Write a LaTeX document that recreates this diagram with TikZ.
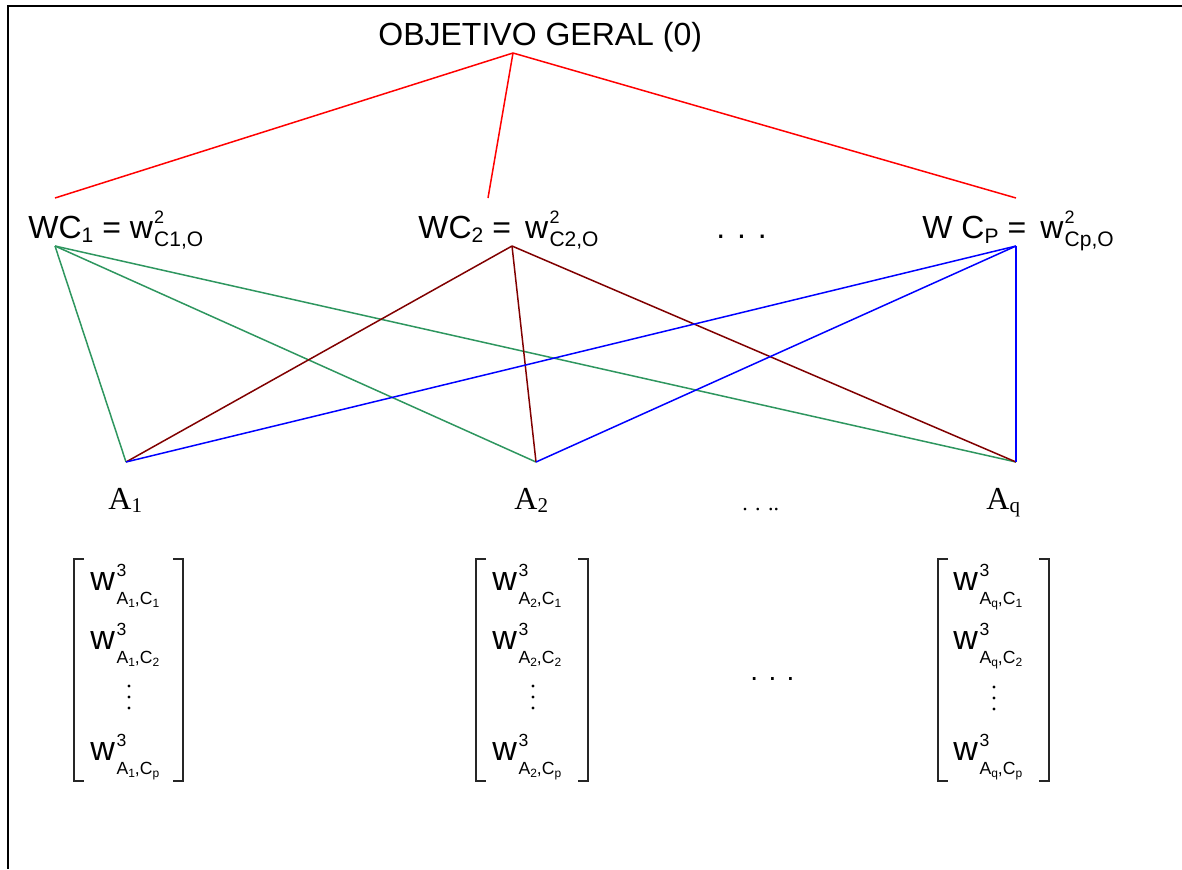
\documentclass[tikz,border=0pt]{standalone}
\usepackage{fontspec}
\setmainfont{Liberation Sans}
\newfontfamily\timesfont{Liberation Serif}
\usepackage{tikz}

\definecolor{linkred}{RGB}{255,0,0}
\definecolor{linkgreen}{RGB}{46,150,95}
\definecolor{linkbrown}{RGB}{128,0,0}
\definecolor{linkblue}{RGB}{0,0,255}

\newcommand{\wfs}{\fontsize{16}{19}\selectfont}
\newcommand{\supfs}{\fontsize{9}{11}\selectfont}
\newcommand{\subfs}{\fontsize{10.5}{12}\selectfont}
\newcommand{\mwfs}{\fontsize{17}{20}\selectfont}
\newcommand{\msubfs}{\fontsize{8.8}{10}\selectfont}
\newcommand{\mssubfs}{\fontsize{6}{7}\selectfont}
\newcommand{\wtop}[1]{w\kern0.6pt\rlap{\raisebox{7.5pt}{\supfs 2}}\raisebox{-4pt}{\subfs #1}}
\newcommand{\went}[2]{{\mwfs w}\kern0.8pt\rlap{\raisebox{6.8pt}{\msubfs 3}}\raisebox{-7.2pt}{\msubfs A\raisebox{-1.5pt}{\mssubfs #1},C\raisebox{-1.5pt}{\mssubfs #2}}}

\begin{document}
\begin{tikzpicture}[x=0.5pt, y=-0.5pt, every node/.style={inner sep=0pt, anchor=base west, font=\wfs}]
  \useasboundingbox (0,0) rectangle (1182,869);
  \draw[line width=1pt] (1182,6) -- (8,6) -- (8,869);
  \node (obj) at (378,45) {OBJETIVO GERAL (0)};
  \node (wc1) at (28,238) {WC\raisebox{-2pt}{\subfs 1} = \wtop{C1,O}};
  \node (wc2) at (418,238) {WC\raisebox{-2pt}{\subfs 2} = \,\wtop{C2,O}};
  \node (cdots) at (716,238) {. . .};
  \node (wcp) at (922,238) {W C\raisebox{-2.5pt}{\subfs P} = \,\wtop{Cp,O}};
  \coordinate (top) at (513,53);
  \coordinate (in1) at (55,198);
  \coordinate (in2) at (488,198);
  \coordinate (inp) at (1016,198);
  \coordinate (c1) at (55,246);
  \coordinate (c2) at (512,246);
  \coordinate (cp) at (1016,246);
  \coordinate (a1) at (126,462);
  \coordinate (a2) at (536,462);
  \coordinate (aq) at (1016,462);
  \draw[linkred, line width=0.75pt] (top) -- (in1);
  \draw[linkred, line width=0.75pt] (top) -- (in2);
  \draw[linkred, line width=0.75pt] (top) -- (inp);
  \draw[linkgreen, line width=0.75pt] (c1) -- (a1);
  \draw[linkgreen, line width=0.75pt] (c1) -- (a2);
  \draw[linkgreen, line width=0.75pt] (c1) -- (aq);
  \draw[linkbrown, line width=0.75pt] (c2) -- (a1);
  \draw[linkbrown, line width=0.75pt] (c2) -- (a2);
  \draw[linkbrown, line width=0.75pt] (c2) -- (aq);
  \draw[linkblue, line width=0.75pt] (cp) -- (a1);
  \draw[linkblue, line width=0.75pt] (cp) -- (a2);
  \draw[linkblue, line width=0.75pt] (cp) -- (aq);
  \node[font=\timesfont\wfs] (la1) at (108,509) {A\raisebox{-1.5pt}{\subfs 1}};
  \node[font=\timesfont\wfs] (la2) at (514,509) {A\raisebox{-1.5pt}{\subfs 2}};
  \node[font=\timesfont\fontsize{11}{13}\selectfont] (adots) at (742,510) {. . ..};
  \node[font=\timesfont\wfs] (laq) at (986,509) {A\raisebox{-1.5pt}{\subfs q}};
  \draw[black!85, line width=1pt] (84,559) -- (74,559) -- (74,781) -- (84,781);
  \draw[black!85, line width=1pt] (173,559) -- (183,559) -- (183,781) -- (173,781);
  \node (m11) at (90,590) {\went{1}{1}};
  \node (m12) at (90,649) {\went{1}{2}};
  \fill (129,686) circle[radius=0.8pt] (129,697) circle[radius=0.8pt] (129,708) circle[radius=0.8pt];
  \node (m1p) at (90,760) {\went{1}{p}};
  \draw[black!85, line width=1pt] (486,559) -- (476,559) -- (476,781) -- (486,781);
  \draw[black!85, line width=1pt] (578,559) -- (588,559) -- (588,781) -- (578,781);
  \node (m21) at (492,590) {\went{2}{1}};
  \node (m22) at (492,649) {\went{2}{2}};
  \fill (533,686) circle[radius=0.8pt] (533,697) circle[radius=0.8pt] (533,708) circle[radius=0.8pt];
  \node (m2p) at (492,760) {\went{2}{p}};
  \node[font=\fontsize{14}{16}\selectfont] (mdots) at (750,680) {. . .};
  \draw[black!85, line width=1pt] (948,559) -- (938,559) -- (938,781) -- (948,781);
  \draw[black!85, line width=1pt] (1039,559) -- (1049,559) -- (1049,781) -- (1039,781);
  \node (mq1) at (953,590) {\went{q}{1}};
  \node (mq2) at (953,649) {\went{q}{2}};
  \fill (994,687) circle[radius=0.8pt] (994,698) circle[radius=0.8pt] (994,709) circle[radius=0.8pt];
  \node (mqp) at (953,760) {\went{q}{p}};
\end{tikzpicture}
\end{document}
